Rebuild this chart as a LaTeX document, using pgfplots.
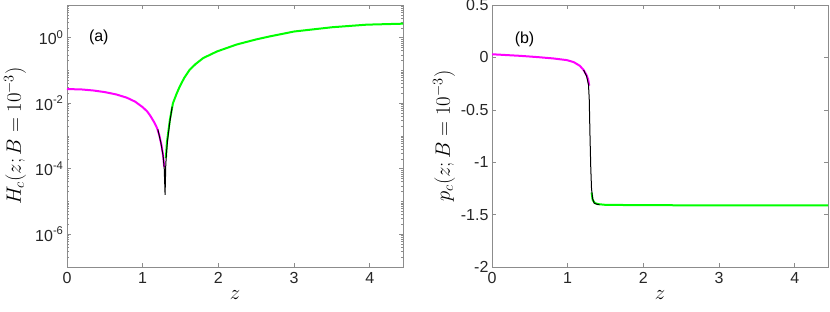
\documentclass[border=0pt]{standalone}
\usepackage{fontspec}
\setmainfont{Liberation Sans}
\usepackage{pgfplots}
\pgfplotsset{compat=1.18}
\definecolor{mag}{RGB}{255,0,255}
\definecolor{grn}{RGB}{0,255,0}
\begin{document}
\begin{tikzpicture}[x=1pt,y=1pt]
\useasboundingbox (0,0) rectangle (830,311);
\pgfplotsset{myax/.style={scale only axis, width=336pt, height=262pt, anchor=south west,
  axis line style={draw=black!45, line width=0.8pt}, every tick/.style={draw=black!45, line width=0.6pt},
  tick align=inside, major tick length=4pt, minor tick length=2pt,
  xmin=0, xmax=4.44, xtick={0,1,2,3,4}, xticklabels={0,1,2,3,4},
  ticklabel style={font=\fontsize{16}{16}\selectfont, text=black!85},
  xticklabel style={yshift=-2pt},
  /pgf/number format/assume math mode=true,
  label style={font=\fontsize{22}{22}\selectfont},
  xlabel={$z$},
  xlabel style={at={([yshift=-28pt]axis description cs:0.5,0)}, anchor=center},
  clip=true}}

\begin{axis}[myax, at={(67pt,44pt)}, ymode=log, ymin=1e-7, ymax=10,
  ytick={1e-6,1e-4,1e-2,1},
  yticklabels={10\textsuperscript{-6},10\textsuperscript{-4},10\textsuperscript{-2},10\textsuperscript{0}},
  minor ytick={2e-7,3e-7,4e-7,5e-7,6e-7,7e-7,8e-7,9e-7,
    2e-6,3e-6,4e-6,5e-6,6e-6,7e-6,8e-6,9e-6,1e-5,
    2e-5,3e-5,4e-5,5e-5,6e-5,7e-5,8e-5,9e-5,
    2e-4,3e-4,4e-4,5e-4,6e-4,7e-4,8e-4,9e-4,1e-3,
    2e-3,3e-3,4e-3,5e-3,6e-3,7e-3,8e-3,9e-3,
    2e-2,3e-2,4e-2,5e-2,6e-2,7e-2,8e-2,9e-2,1e-1,
    0.2,0.3,0.4,0.5,0.6,0.7,0.8,0.9,2,3,4,5,6,7,8,9},
  ylabel={$H_c(z;B=10^{-3})$},
  ylabel style={at={([xshift=-52pt]axis description cs:0,0.5)}, anchor=center}]
\addplot[mag, line width=2pt] coordinates {
(0,0.0272) (0.2,0.0263) (0.35,0.0245) (0.5,0.0219) (0.65,0.0186) (0.79,0.0148)
(0.9,0.0112) (1.0,0.00759) (1.06,0.00562) (1.1,0.00417) (1.15,0.00269) (1.19,0.00174)
(1.22,0.00105) (1.25,5.0e-4) (1.27,2.5e-4) (1.285,1.12e-4)};
\addplot[grn, line width=2pt] coordinates {
(1.307,2.1e-4) (1.32,6.3e-4) (1.34,1.41e-3) (1.36,3.16e-3) (1.40,0.01) (1.45,0.02)
(1.49,0.0324) (1.55,0.060) (1.62,0.105) (1.70,0.158) (1.80,0.24) (1.98,0.38)
(2.24,0.62) (2.5,0.89) (2.68,1.10) (3.0,1.55) (3.5,2.09) (3.96,2.51) (4.44,2.69)};
\addplot[black, line width=1pt] coordinates {
(1.20,1.6e-3) (1.24,6.3e-4) (1.27,2.5e-4) (1.285,1e-4) (1.292,3.2e-5) (1.296,1.6e-5)
(1.300,4e-5) (1.305,1.26e-4) (1.315,3.2e-4) (1.33,7.9e-4) (1.36,2.8e-3) (1.39,7.9e-3)};
\node[font=\fontsize{16}{16}\selectfont] at (axis cs:0.42,1) {(a)};
\end{axis}

\begin{axis}[myax, at={(492pt,44pt)}, ymin=-2, ymax=0.5,
  ytick={-2,-1.5,-1,-0.5,0,0.5}, yticklabels={-2,-1.5,-1,-0.5,0,0.5},
  ylabel={$p_c(z;B=10^{-3})$},
  ylabel style={at={([xshift=-48pt]axis description cs:0,0.5)}, anchor=center}]
\addplot[mag, line width=2pt] coordinates {
(0,0.03) (0.37,0.015) (0.6,0.003) (0.81,-0.01) (0.99,-0.026) (1.08,-0.045) (1.16,-0.08)
(1.21,-0.12) (1.25,-0.17) (1.27,-0.21) (1.285,-0.27)};
\addplot[grn, line width=2pt] coordinates {
(1.316,-1.29) (1.33,-1.36) (1.36,-1.39) (1.40,-1.40) (1.5,-1.407) (2,-1.41) (3,-1.412) (4.44,-1.412)};
\addplot[black, line width=1pt] coordinates {
(1.21,-0.12) (1.25,-0.18) (1.275,-0.26) (1.285,-0.40) (1.295,-0.75) (1.305,-1.05)
(1.315,-1.25) (1.33,-1.35) (1.35,-1.39) (1.38,-1.40) (1.42,-1.405)};
\node[font=\fontsize{16}{16}\selectfont] at (axis cs:0.43,0.175) {(b)};
\end{axis}
\end{tikzpicture}
\end{document}
